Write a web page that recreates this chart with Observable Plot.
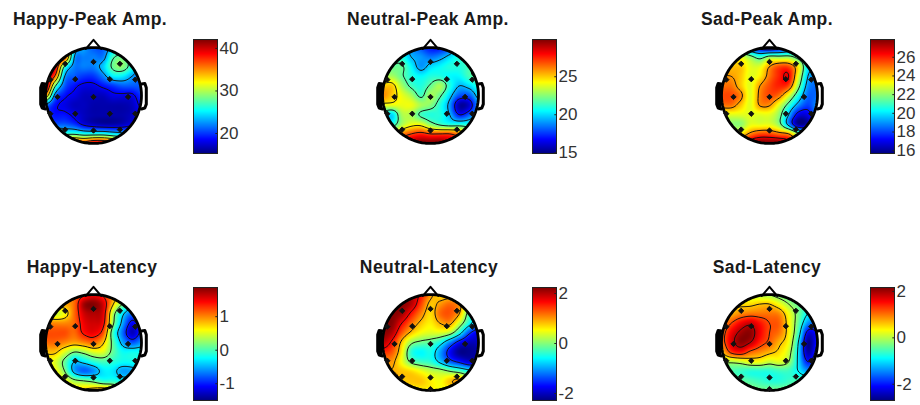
<!DOCTYPE html>
<html><head><meta charset="utf-8">
<script src="https://cdn.jsdelivr.net/npm/d3@7"></script>
<script src="https://cdn.jsdelivr.net/npm/@observablehq/plot@0.6"></script>
<style>
html,body{margin:0;padding:0;background:#fff;width:920px;height:405px;overflow:hidden}
#root{position:relative;width:920px;height:405px;font-family:"Liberation Sans",Arial,sans-serif}
#root>*{position:absolute}
.t{font-weight:bold;font-size:17.5px;letter-spacing:.4px;color:#1a1a1a;white-space:nowrap;transform:translate(-50%,-50%)}
.h{filter:blur(.35px)}
</style></head><body><div id="root"></div>
<script>
const titles=["Happy-Peak Amp.","Neutral-Peak Amp.","Sad-Peak Amp.","Happy-Latency","Neutral-Latency","Sad-Latency"];
const domains=[[15.3,42.1],[14.9,29.9],[15.7,27.9],[-1.5,1.87],[-2.28,2.24],[-2.7,2.17]];
const tickSets=[[20,30,40],[15,20,25],[16,18,20,22,24,26],[-1,0,1],[-2,0,2],[-2,0,2]];
const thresholdSets=[[18.5,23,27.5,32,36.5,41],[17,19.5,21.8,24.5,27],[17.5,19.5,21.5,24.5,26.5],[-1,-.4,.2,.75,1.35],[-1.5,-.7,0,.9,1.7],[-2,-.9,-.1,.6,1.2,1.9]];
const happyPeak=[
42,42,38,25,23,21,21,24,24,22,22,
42,42,38,23,22,22,22,27,28,25,22,
42,40,27,22,22,22,24,28,29,26,22,
42,36,23,21,20,20,22,25,25,23,21,
42,28,21,19,18,18,19,20,21,21,21,
35,22,19,18,17,17,17,18,18,18,20,
22,19,18,17,17,16.5,16.5,16.5,16.5,17,19,
20,19,19,18,17,16.5,16.5,16.5,16.5,17,18,
22,21,21,20,18,17,16.5,16.5,17,18,18,
28,28,27,27,26,26,26,25,24,23,22,
42,42,40,39,38,40,40,38,35,30,28];
const neutralPeak=[
20,20,20,19,18,17,17,18,20,21,21,
21,21,21,19.5,19,18.5,19,20,21,21,21,
22,22,22,20.5,19,20,20.5,21,21,21.5,22,
23,23,22,21,20.5,21,21,20.5,20.5,21.5,22,
25,25,23,21.5,21,22,23,21,19.5,20,21,
26,25,24,23,21.5,23,22,20,18,18,20,
24,24,24,24,23,22.5,21,19,15.5,16,19,
21,20,23,23,21.5,21,21,19.5,17,18,20,
21,21,23,24,24,22.5,21.5,21,21,21,22,
24,24,26,27,27.5,27,27,27,26,24,24,
27,27,28,29.5,30,30,30,29,28,26,25];
const sadPeak=[
21,21,20,18,17,16.5,17,18,20,21,21,
23,23,23,22,21,22,22,22,21,20,20,
24,24,24,23,23,24.5,25.5,25.5,23.5,20,20,
24.5,24.5,24,23,23.5,25,26,26.5,23,19.5,19,
25,25,24,23,24.5,25.5,26,25.5,22,19,18.5,
25.5,25.5,24.8,23,24.8,25.5,25,23,20.5,18.5,18.5,
25,25,24,23,24.6,24.6,23,21,19,18,19,
23,23,23,23,23,23,22,19.5,17,17,19,
22,22,22,23,23,23,22,19,16,16.5,19,
22,23,23.5,24.8,25.5,25.5,25,24.5,22,21,21,
24,25,26,27.5,28,28,28,27,25,24,23];
const happyLatency=[
1,1,1,1.1,1.3,1.5,1.3,1,.8,.5,.2,
1,1,.9,1.1,1.75,1.85,1.6,.8,.2,-.1,-.2,
.7,.45,.6,1.1,1.6,1.7,1.55,.4,-.3,-.7,-.5,
1,1,1,1.1,1.5,1.6,1.45,.3,-.5,-1.1,-.8,
1.2,1.2,1.2,1.1,1.4,1.5,1.2,0,-.7,-1.3,-.9,
1.1,1.1,1,.9,1,1.1,.8,.1,-.5,-.8,-.6,
.8,.8,.5,.2,.3,.5,.5,.1,-.2,-.2,-.2,
.6,.5,.1,-.4,-.3,-.1,0,-.1,-.2,-.2,-.2,
.6,.6,.2,-.5,-.75,-.6,-.3,-.3,-.55,-.5,-.3,
.8,.7,.6,.3,.2,.1,-.1,-.1,-.2,-.2,-.1,
.9,.9,.9,.7,.8,.9,1,.8,.4,.2,.1];
const neutralLatency=[
2.2,2.2,2.2,2,1.6,1,.7,.7,.7,.5,.3,
2.2,2.2,2.2,2,1.4,.8,1,1.2,1,.3,0,
2.2,2.2,2.1,1.6,1.1,.7,1.2,1.3,.9,-.2,-.5,
2.2,2.2,1.7,1.2,.8,.6,.9,1,.3,-.5,-1.1,
2.2,2,1.3,.8,.5,.4,.4,.2,-.5,-1.4,-1.8,
2,1.6,.8,.1,-.1,-.2,-.5,-1.1,-1.7,-2,-2,
1.5,1.3,.6,-.4,-.6,-.5,-1,-1.7,-2.2,-2.2,-2.1,
1,1,.5,-.1,-.3,-.4,-.8,-1.3,-1.6,-1.9,-1.9,
.8,.9,.8,.7,.5,.3,.2,0,-.2,-.5,-.6,
1.1,1.1,.8,.8,.8,.6,.5,.8,1,.3,0,
.8,.8,.7,.6,.6,.6,.5,.5,.4,.3,.2];
const sadLatency=[
.2,.2,.2,.1,0,-.1,-.3,-.5,-.6,-.6,-.6,
.5,.5,.5,.5,.6,.6,.3,-.1,-.4,-.6,-.6,
.6,.7,.9,1,1,1,.9,.3,-.3,-.9,-1,
.8,1.2,1.6,1.8,1.5,1.2,1.1,.4,-.4,-1.4,-1.6,
1,1.6,2,2.1,1.6,1.2,1,.4,-.6,-2.2,-2,
1,1.7,2.1,1.9,1.4,1.1,.7,.3,-.9,-2.6,-2,
.6,1.3,1.5,1.1,.9,.7,.5,.1,-1,-2.5,-1.8,
0,0,.1,.3,.3,.1,.2,-.1,-1,-2,-1.5,
-.5,-.5,-.6,-.7,-.7,-.7,-.6,-.6,-.9,-1.3,-1,
-.3,-.3,-.4,-.5,-.6,-.7,-.7,-.6,-.5,-.5,-.5,
-.1,-.1,-.1,-.2,-.3,-.3,-.3,-.3,-.2,-.2,-.2];
const grids=[happyPeak,neutralPeak,sadPeak,happyLatency,neutralLatency,sadLatency];
const electrodeX=[-.59,0,.55,-.9,-.38,.34,.87,-.75,0,.72,-.9,-.38,.34,.87,-.59,0,.55];
const electrodeY=[.66,.7,.66,.33,.34,.34,.33,-.03,-.03,-.03,-.38,-.38,-.38,-.38,-.71,-.73,-.71];
const extraElectrode=[false,false,false,false,true,true];
const jet=["#00007f","#0000ff","#007fff","#00ffff","#7fff7f","#ffff00","#ff7f00","#ff0000","#7f0000"];
const jetInterpolate=d3.piecewise(d3.interpolateRgb,jet);
const centersX=[93,430,769,93,430,769];
const centersY=[95,95,95,342,342,342];
const barX=[193,532,870,193,532,870];
const barTop=[39,39,39,287,287,287];
const barHeight=[114,114,114,113,113,113];
const titleX=[90,428,767,92,429,767];
const titleY=[19,19,19,267,267,267];
const R=48, half=70;
const ringPts=d3.range(0,361,4).map(a=>({x:1.29*Math.cos(a*Math.PI/180),y:1.29*Math.sin(a*Math.PI/180)}));
const headPts=d3.range(0,361,4).map(a=>({x:Math.cos(a*Math.PI/180),y:Math.sin(a*Math.PI/180)}));
const noseXs=[-.16,0,.16],noseYs=[.97,1.16,.97];
const noseLine=noseXs.map((x,i)=>({x,y:noseYs[i]}));
const earXs=[1,1.07,1.1,1.1,1.07,1],earYs=[.24,.25,.16,-.18,-.26,-.28];
const rightEar=earXs.map((x,i)=>({x,y:earYs[i]}));
const leftEar=earXs.map((x,i)=>({x:-x,y:earYs[i]}));
// Smooth display of the read-off grid (Catmull-Rom between its cells)
const cr=(a,b,c,d,t)=>.5*(2*b+(c-a)*t+(2*a-5*b+4*c-d)*t*t+(3*b-a-3*c+d)*t*t*t);
function surface(g,n=11){
  const cl=k=>Math.max(0,Math.min(n-1,k));
  const at=(r,c)=>g[cl(r)*n+cl(c)];
  return (x,y)=>{
    const u=(x+1)/.2,v=(1-y)/.2,c=Math.floor(u),r=Math.floor(v),fu=u-c,fv=v-r;
    const row=k=>cr(at(k,c-1),at(k,c),at(k,c+1),at(k,c+2),fu);
    return cr(row(r-1),row(r),row(r+1),row(r+2),fv);
  };
}
const root=document.getElementById("root");
function place(el,x,y){el.style.left=x+"px";el.style.top=y+"px";root.append(el);}
titles.forEach((t,i)=>{
  const color={type:"linear",domain:domains[i],interpolate:jetInterpolate,clamp:true};
  const ex=electrodeX.map((x,k)=>({x,y:electrodeY[k]}));
  if(extraElectrode[i])ex.push({x:0,y:-.97});
  const f=surface(grids[i]);
  const head=Plot.plot({width:half*2,height:half*2,margin:0,axis:null,
    x:{domain:[-half/R,half/R]},y:{domain:[-half/R,half/R]},color,
    marks:[
      Plot.raster({fill:f,x1:-1.1,x2:1.1,y1:-1.1,y2:1.1,pixelSize:1}),
      Plot.contour({value:f,x1:-1.1,x2:1.1,y1:-1.1,y2:1.1,pixelSize:1,thresholds:thresholdSets[i],stroke:"#111",fill:"none",strokeWidth:1}),
      Plot.line(ringPts,{x:"x",y:"y",stroke:"white",strokeWidth:28}),
      Plot.line(headPts,{x:"x",y:"y",stroke:"black",strokeWidth:2.8}),
      Plot.line(noseLine,{x:"x",y:"y",stroke:"black",strokeWidth:2}),
      Plot.line(rightEar,{x:"x",y:"y",stroke:"black",strokeWidth:3}),
      Plot.line(leftEar,{x:"x",y:"y",stroke:"black",strokeWidth:3,fill:"black"}),
      Plot.dot(ex,{x:"x",y:"y",symbol:"diamond2",r:2.4,fill:"#111",stroke:"#111",strokeWidth:1})
    ]});
  head.classList.add("h");
  place(head,centersX[i]-half,centersY[i]-half);
  const steps=d3.range(128).map(k=>domains[i][0]+(domains[i][1]-domains[i][0])*(k+.5)/128);
  const mt=10,mb=10;
  const bar=Plot.plot({width:24+44,height:barHeight[i]+mt+mb,marginTop:mt,marginBottom:mb,marginLeft:0,marginRight:44,
    x:{axis:null,domain:[0,1]},y:{domain:domains[i]},color,
    marks:[
      Plot.raster(steps.slice().reverse(),{width:1,height:128,x1:0,x2:1,y1:domains[i][1],y2:domains[i][0],fill:d=>d}),
      Plot.frame({stroke:"#222",strokeWidth:1}),
      Plot.ruleY(tickSets[i],{x1:.93,x2:1,stroke:"#222"}),
      Plot.axisY({anchor:"right",ticks:tickSets[i],tickFormat:d=>String(d),tickSize:0,tickPadding:2,label:null,fontSize:17,fill:"#333",
        fontFamily:"Liberation Sans"})
    ]});
  place(bar,barX[i],barTop[i]-mt);
  const d=document.createElement("div");d.className="t";d.textContent=t;place(d,titleX[i],titleY[i]);
});
</script></body></html>
